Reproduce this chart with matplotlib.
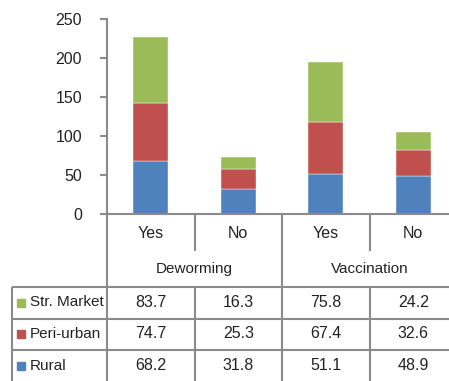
import matplotlib.pyplot as plt
import numpy as np
from matplotlib.patches import Rectangle

# stacked percentages per group
groups = ["Deworming", "Vaccination"]
answers = ["Yes", "No", "Yes", "No"]
series = ["Str. Market", "Peri-urban", "Rural"]
rural = [68.2, 31.8, 51.1, 48.9]
peri_urban = [74.7, 25.3, 67.4, 32.6]
str_market = [83.7, 16.3, 75.8, 24.2]
colors = {"Rural": "#4F81BD", "Peri-urban": "#C0504D", "Str. Market": "#9BBB59"}

plt.rcParams["font.family"] = ["Liberation Sans", "DejaVu Sans"]
fs = 11
txt = "#222222"
grid = "#8a8a8a"

W, H = 449, 381
fig = plt.figure(figsize=(W / 100, H / 100), dpi=100)

# bar area
ax = fig.add_axes([107 / W, (H - 214) / H, 350 / W, 195 / H])
x = np.arange(len(answers))
bw = 0.4
ax.bar(x, rural, bw, color=colors["Rural"], edgecolor="white", linewidth=0.3)
ax.bar(x, peri_urban, bw, bottom=rural, color=colors["Peri-urban"],
       edgecolor="white", linewidth=0.3)
ax.bar(x, str_market, bw, bottom=np.add(rural, peri_urban),
       color=colors["Str. Market"], edgecolor="white", linewidth=0.3)
ax.set_xlim(-0.5, 3.5)
ax.set_ylim(0, 250)
ax.set_yticks(range(0, 251, 50))
ax.set_xticks([])
for s in ["top", "right"]:
    ax.spines[s].set_visible(False)
for s in ["left", "bottom"]:
    ax.spines[s].set_color(grid)
    ax.spines[s].set_linewidth(1.5)
ax.tick_params(axis="y", length=5, width=1.5, color=grid, pad=13,
               labelsize=fs + 0.5, labelcolor=txt)

# data table underneath
xl = -0.5 - 95 / 87.5
tab = fig.add_axes([12 / W, 0, 445 / W, 167 / H])
tab.set_xlim(xl, 3.5)
tab.set_ylim(167, 0)
tab.axis("off")
kw = dict(color=grid, lw=1.5, clip_on=False, solid_capstyle="butt")
tab.plot([-0.5, -0.5], [0, 167], **kw)
tab.plot([1.5, 1.5], [0, 167], **kw)
for xv in [0.5, 2.5]:
    tab.plot([xv, xv], [0, 37], **kw)
    tab.plot([xv, xv], [73, 167], **kw)
tab.plot([xl, xl], [73, 167], **kw)
for yv in [73, 104.5, 136]:
    tab.plot([xl, 3.5], [yv, yv], **kw)

for i, a in enumerate(answers):
    tab.text(i, 19, a, ha="center", va="center", fontsize=fs + 0.5, color=txt)
for j, g in enumerate(groups):
    tab.text(2 * j + 0.5, 55, g, ha="center", va="center", fontsize=fs, color=txt)

rows = {"Str. Market": str_market, "Peri-urban": peri_urban, "Rural": rural}
for r, name in enumerate(series):
    yc = 88.5 + r * 31.5
    tab.add_patch(Rectangle((xl + 5 / 87.5, yc - 4), 8 / 87.5, 8,
                            color=colors[name], clip_on=False))
    tab.text(xl + 18 / 87.5, yc, name, ha="left", va="center",
             fontsize=fs, color=txt)
    for i, v in enumerate(rows[name]):
        tab.text(i, yc, f"{v:.1f}", ha="center", va="center",
                 fontsize=fs + 0.5, color=txt)

fig.savefig("out.png", dpi=100)
